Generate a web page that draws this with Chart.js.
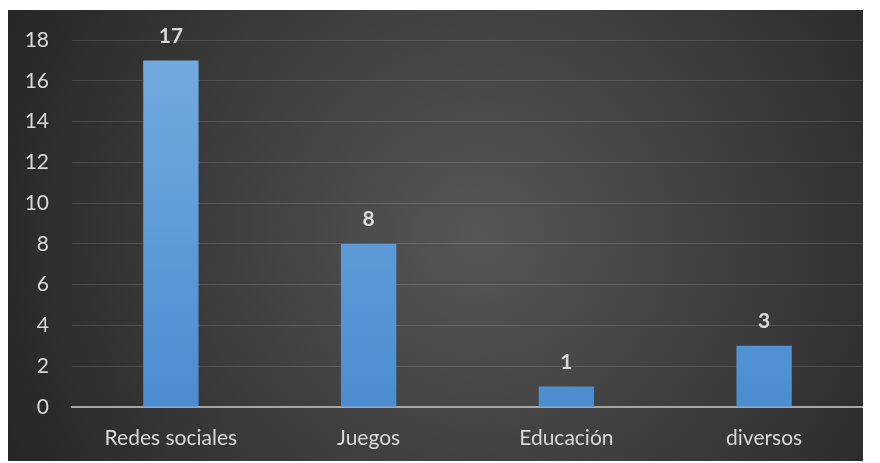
<!DOCTYPE html>
<html>
<head>
<meta charset="utf-8">
<script src="https://cdn.jsdelivr.net/npm/chart.js@4"></script>
<style>
  html, body { margin: 0; padding: 0; background: #fff; }
  #wrap { position: absolute; left: 8px; top: 10px; width: 855px; height: 451px; }
</style>
</head>
<body>
<div id="wrap"><canvas id="chart"></canvas></div>
<script>
const categories = ['Redes sociales', 'Juegos', 'Educación', 'diversos'];
const counts = [17, 8, 1, 3];
const yTicks = [0, 2, 4, 6, 8, 10, 12, 14, 16, 18];

const FONT = 'Lato, "Open Sans", sans-serif';
const TEXT = '#d9d9d9';

// dark radial background like the Excel style
const bgPlugin = {
  id: 'bg',
  beforeDraw(chart) {
    const { ctx, width, height } = chart;
    const g = ctx.createRadialGradient(width * 0.55, height * 0.5, 0, width * 0.55, height * 0.5, width * 0.6);
    g.addColorStop(0, '#565656');
    g.addColorStop(1, '#262626');
    ctx.save();
    ctx.fillStyle = g;
    ctx.fillRect(0, 0, width, height);
    ctx.restore();
  }
};

// bold values above bars
const valueLabels = {
  id: 'valueLabels',
  afterDatasetsDraw(chart) {
    const { ctx } = chart;
    const meta = chart.getDatasetMeta(0);
    ctx.save();
    ctx.font = 'bold 21px ' + FONT;
    ctx.fillStyle = TEXT;
    ctx.textAlign = 'center';
    ctx.textBaseline = 'bottom';
    meta.data.forEach((bar, i) => {
      ctx.fillText(counts[i], bar.x, bar.y - 14);
    });
    ctx.restore();
  }
};

const ctx = document.getElementById('chart').getContext('2d');
new Chart(ctx, {
  type: 'bar',
  data: {
    labels: categories,
    datasets: [{
      data: counts,
      backgroundColor: (c) => {
        const area = c.chart.chartArea;
        if (!area) return '#5b9bd5';
        const g = c.chart.ctx.createLinearGradient(0, area.top, 0, area.bottom);
        g.addColorStop(0, '#74abe0');
        g.addColorStop(1, '#4a8dd0');
        return g;
      },
      categoryPercentage: 1,
      barPercentage: 0.28
    }]
  },
  options: {
    responsive: true,
    maintainAspectRatio: false,
    animation: false,
    layout: { padding: { top: 30, right: 0, left: 0, bottom: 0 } },
    plugins: { legend: { display: false }, tooltip: { enabled: false } },
    scales: {
      x: {
        grid: { display: false, drawTicks: false },
        border: { color: '#a6a6a6', width: 2 },
        ticks: { color: TEXT, font: { family: FONT, size: 21 }, padding: 19 },
        afterFit(scale) { scale.height = 54; scale.paddingLeft = 0; scale.paddingRight = 0; }
      },
      y: {
        min: 0,
        max: 18,
        afterBuildTicks(scale) { scale.ticks = yTicks.map(v => ({ value: v })); },
        grid: { color: 'rgba(255,255,255,0.13)', drawTicks: false, lineWidth: 1 },
        border: { display: false },
        ticks: { color: TEXT, font: { family: FONT, size: 21 }, padding: 23 },
        afterFit(scale) { scale.width = 64; scale.paddingTop = 0; scale.paddingBottom = 0; }
      }
    }
  },
  plugins: [bgPlugin, valueLabels]
});
</script>
</body>
</html>
